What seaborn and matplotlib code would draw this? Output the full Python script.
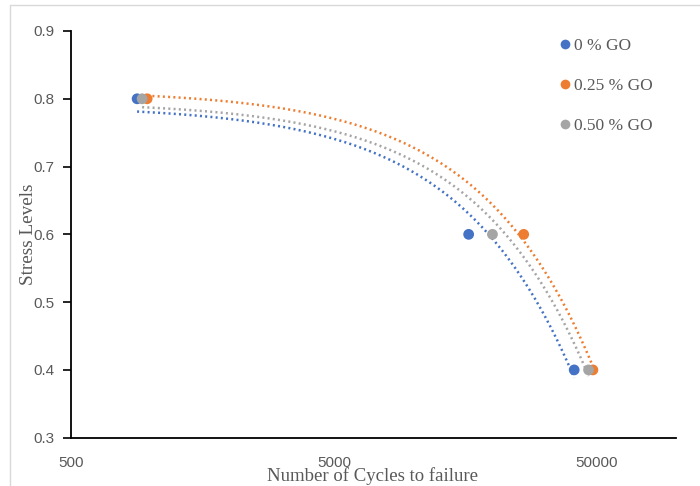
import numpy as np
import pandas as pd
import matplotlib
matplotlib.use("Agg")
import matplotlib.pyplot as plt
from matplotlib.lines import Line2D
from matplotlib.ticker import FixedLocator, NullLocator, FixedFormatter
import seaborn as sns

# ---------------- data ----------------
series_names = ["0 % GO", "0.25 % GO", "0.50 % GO"]
stress_levels = [0.8, 0.6, 0.4]
cycles_0 = [892, 16270, 41000]
cycles_025 = [974, 26350, 48300]
cycles_050 = [932, 20040, 46500]
colors = ["#4472C4", "#ED7D31", "#A5A5A5"]

x_ticks = [500, 5000, 50000]
x_tick_labels = ["500", "5000", "50000"]
y_ticks = [0.3, 0.4, 0.5, 0.6, 0.7, 0.8, 0.9]

all_cycles = [cycles_0, cycles_025, cycles_050]

rows = []
for name, cyc in zip(series_names, all_cycles):
    for c, s in zip(cyc, stress_levels):
        rows.append({"series": name, "cycles": c, "stress": s})
df = pd.DataFrame(rows)

# linear trendlines (Excel style: fitted on linear x)
trend_rows = []
for name, cyc in zip(series_names, all_cycles):
    b, a = np.polyfit(cyc, stress_levels, 1)
    xs = np.geomspace(min(cyc), max(cyc), 200)
    for x in xs:
        trend_rows.append({"series": name, "cycles": x, "stress": a + b * x})
trend_df = pd.DataFrame(trend_rows)

# ---------------- plot ----------------
sns.set_style("white")
plt.rcParams["font.family"] = ["Liberation Sans", "DejaVu Sans"]

fig = plt.figure(figsize=(7, 4.86), dpi=100)
ax = fig.add_axes([71 / 700, 1 - 437.7 / 486, (676 - 71) / 700, (437.7 - 31) / 486])

palette = dict(zip(series_names, colors))

for name in series_names:
    sub = trend_df[trend_df["series"] == name]
    ax.plot(sub["cycles"], sub["stress"], color=palette[name],
            linewidth=1.8, linestyle=(0, (0.8, 1.3)), zorder=2)

sns.scatterplot(data=df, x="cycles", y="stress", hue="series",
                palette=palette, s=60, edgecolor="none", legend=False,
                ax=ax, zorder=3)

ax.set_xscale("log")
ax.set_xlim(500, 100000)
ax.set_ylim(0.3, 0.9)
ax.xaxis.set_major_locator(FixedLocator(x_ticks))
ax.xaxis.set_major_formatter(FixedFormatter(x_tick_labels))
ax.xaxis.set_minor_locator(NullLocator())
ax.set_yticks(y_ticks)
ax.set_yticklabels([f"{v:.1f}" for v in y_ticks])

ax.tick_params(axis="x", length=0, pad=13, labelsize=11, labelcolor="#595959")
ax.tick_params(axis="y", length=6, width=1.2, color="black", direction="out",
               pad=6, labelsize=11, labelcolor="#595959", left=True)

for side in ["top", "right"]:
    ax.spines[side].set_visible(False)
for side in ["left", "bottom"]:
    ax.spines[side].set_color("black")
    ax.spines[side].set_linewidth(1.3)

ax.set_xlabel("Number of Cycles to failure", family="Liberation Serif",
              fontsize=13.5, color="#595959")
ax.set_ylabel("Stress Levels", family="Liberation Serif",
              fontsize=13.8, color="#595959")
ax.xaxis.set_label_coords(0.499, -0.072)
ax.yaxis.set_label_coords(-0.057, 0.5)

handles = [Line2D([0], [0], marker="o", linestyle="none", markersize=7,
                  markerfacecolor=c, markeredgecolor="none") for c in colors]
leg = ax.legend(handles, series_names, loc="upper left",
                bbox_to_anchor=(560 / 700, 1 - 38 / 486),
                bbox_transform=fig.transFigure, frameon=False,
                borderaxespad=0, borderpad=0,
                handletextpad=0.2, labelspacing=1.36, handlelength=0.6,
                prop={"family": "Liberation Serif", "size": 12.5})
for t in leg.get_texts():
    t.set_color("#595959")

# chart area border (Excel style)
fig.add_artist(Line2D([10 / 700, 10 / 700], [0, 1 - 5 / 486],
                      transform=fig.transFigure, color="#D9D9D9", linewidth=1))
fig.add_artist(Line2D([10 / 700, 1], [1 - 5 / 486, 1 - 5 / 486],
                      transform=fig.transFigure, color="#D9D9D9", linewidth=1))

fig.savefig("out.png", dpi=100)
